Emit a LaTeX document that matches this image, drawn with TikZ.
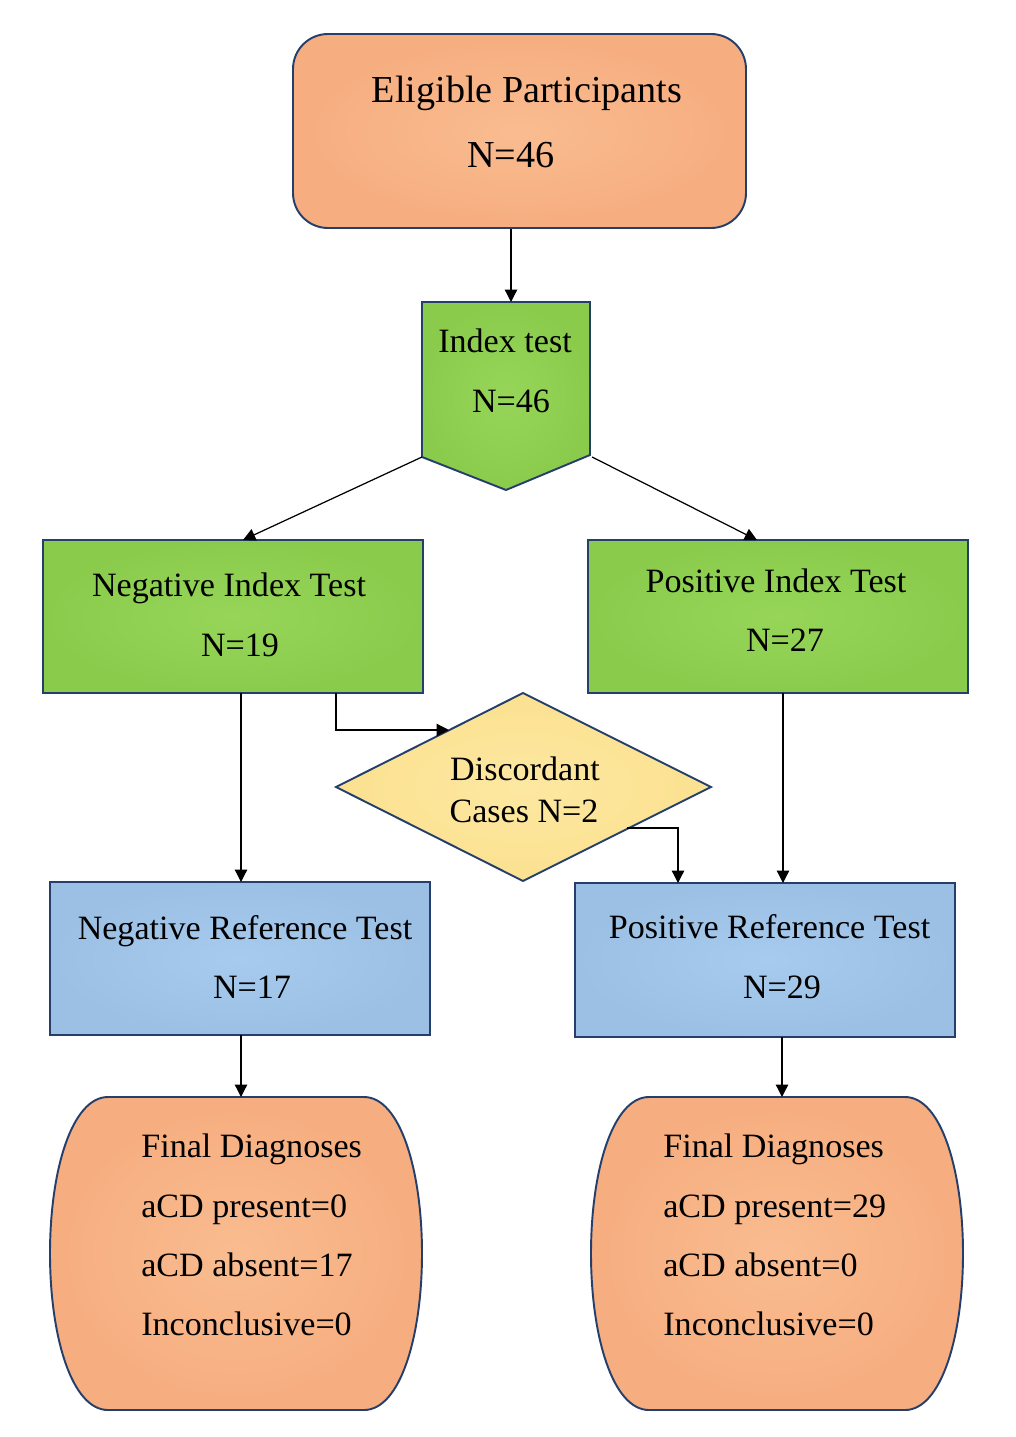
\documentclass[tikz,border=0pt]{standalone}
\usepackage{fontspec}
\setmainfont{Liberation Serif}
\usetikzlibrary{arrows.meta}
\definecolor{navy}{HTML}{243F6C}
\definecolor{orIn}{HTML}{F9BC90}
\definecolor{orOut}{HTML}{F6AD7F}
\definecolor{grIn}{HTML}{96D558}
\definecolor{grOut}{HTML}{8ACB4C}
\definecolor{blIn}{HTML}{A6CBEF}
\definecolor{blOut}{HTML}{9CC0E4}
\definecolor{ylIn}{HTML}{FDE8A2}
\definecolor{ylOut}{HTML}{FBE190}
\def\pxu{0.02cm}
\tikzset{
  frame/.style={draw=navy, line width=1.1pt},
  orangefill/.style={inner color=orIn, outer color=orOut},
  greenfill/.style={inner color=grIn, outer color=grOut},
  bluefill/.style={inner color=blIn, outer color=blOut},
  yellowfill/.style={inner color=ylIn, outer color=ylOut},
  rectbox/.style={frame, inner sep=0pt, minimum width=380*\pxu, minimum height=153*\pxu},
  conn/.style={line width=0.7pt, -{Triangle[length=7pt,width=7pt]}},
  txt/.style={font=\fontsize{19.4}{23}\selectfont, anchor=base, inner sep=0pt},
  bigtxt/.style={txt, font=\fontsize{21.7}{26}\selectfont},
  ltxt/.style={txt, anchor=base west},
}
\begin{document}
\begin{tikzpicture}[x=0.02cm, y=-0.02cm]
\useasboundingbox (0,0) rectangle (1016,1437);

% --- Eligible participants
\node[frame, orangefill, rounded corners=35*\pxu, inner sep=0pt,
      minimum width=453*\pxu, minimum height=194*\pxu] (elig) at (519.5,131) {};
\node[bigtxt] (eligA) at (527,102) {Eligible Participants};
\node[bigtxt] (eligB) at (511,167) {N=46};

% --- Index test (pentagon)
\path[frame, greenfill] (422,302) -- (590,302) -- (590,455) -- (506,490) -- (422,457) -- cycle;
\coordinate (idxIn) at (511,302);
\coordinate (idxL) at (422,457);
\coordinate (idxR) at (592,457);
\node[txt] (idxA) at (505,352) {Index test};
\node[txt] (idxB) at (511,412) {N=46};

% --- Negative / positive index test
\node[rectbox, greenfill] (negidx) at (233,616.5) {};
\node[txt] (negidxA) at (229,596) {Negative Index Test};
\node[txt] (negidxB) at (240,656) {N=19};
\node[rectbox, greenfill] (posidx) at (778,616.5) {};
\node[txt] (posidxA) at (776,592) {Positive Index Test};
\node[txt] (posidxB) at (785,651) {N=27};

% --- Discordant diamond
\path[frame, yellowfill] (336,787) -- (523,693) -- (711,787) -- (523,881) -- cycle;
\coordinate (discIn) at (449,730);
\coordinate (discOut) at (627,828);
\node[txt] (discA) at (525,780) {Discordant};
\node[txt] (discB) at (524,822) {Cases N=2};

% --- Reference tests
\node[rectbox, bluefill] (negref) at (240,958.5) {};
\node[txt] (negrefA) at (245,939) {Negative Reference Test};
\node[txt] (negrefB) at (252,998) {N=17};
\node[rectbox, bluefill, minimum height=154*\pxu] (posref) at (765,960) {};
\node[txt] (posrefA) at (769.5,938) {Positive Reference Test};
\node[txt] (posrefB) at (782,998) {N=29};

% --- Final diagnoses (barrel shapes)
\path[frame, orangefill] (108,1097) -- (364,1097)
  .. controls (400,1097) and (422,1170) .. (422,1253.5)
  .. controls (422,1337) and (400,1410) .. (364,1410) -- (108,1410)
  .. controls (72,1410) and (50,1337) .. (50,1253.5)
  .. controls (50,1170) and (72,1097) .. (108,1097) -- cycle;
\coordinate (finL) at (241,1097);
\node[ltxt] (finLA) at (141,1157) {Final Diagnoses};
\node[ltxt] (finLB) at (141,1217) {aCD present=0};
\node[ltxt] (finLC) at (141,1276) {aCD absent=17};
\node[ltxt] (finLD) at (141,1335) {Inconclusive=0};

\path[frame, orangefill] (649,1097) -- (905,1097)
  .. controls (941,1097) and (963,1170) .. (963,1253.5)
  .. controls (963,1337) and (941,1410) .. (905,1410) -- (649,1410)
  .. controls (613,1410) and (591,1337) .. (591,1253.5)
  .. controls (591,1170) and (613,1097) .. (649,1097) -- cycle;
\coordinate (finR) at (782,1097);
\node[ltxt] (finRA) at (663,1157) {Final Diagnoses};
\node[ltxt] (finRB) at (663,1217) {aCD present=29};
\node[ltxt] (finRC) at (663,1276) {aCD absent=0};
\node[ltxt] (finRD) at (663,1335) {Inconclusive=0};

% --- Connectors
\coordinate (negidxIn) at (243,540);
\coordinate (posidxIn) at (757,540);
\coordinate (negidxOut) at (241,693);
\coordinate (negidxSide) at (336,693);
\coordinate (posidxOut) at (783,693);
\coordinate (posrefIn) at (783,883);
\coordinate (posrefSide) at (678,883);
\coordinate (negrefIn) at (241,882);
\coordinate (negrefOut) at (241,1035);
\coordinate (posrefOut) at (782,1037);

\draw[conn] (elig.south -| idxIn) -- (idxIn);
\draw[conn] (idxL) -- (negidxIn);
\draw[conn] (idxR) -- (posidxIn);
\draw[conn] (negidxOut) -- (negrefIn);
\draw[conn] (posidxOut) -- (posrefIn);
\draw[conn] (negidxSide) |- (discIn);
\draw[conn] (discOut) -| (posrefSide);
\draw[conn] (negrefOut) -- (finL);
\draw[conn] (posrefOut) -- (finR);
\end{tikzpicture}
\end{document}
